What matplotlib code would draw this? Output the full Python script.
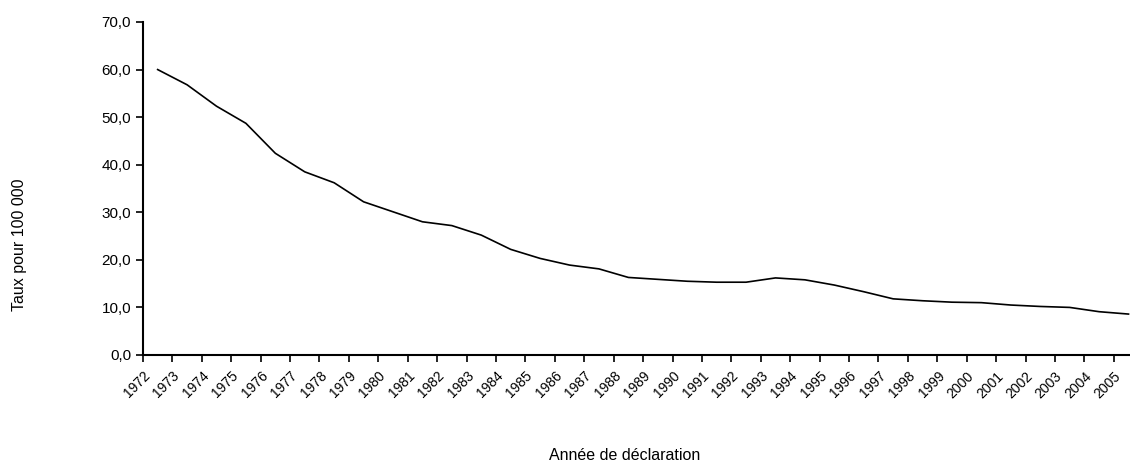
import matplotlib.pyplot as plt
import numpy as np
from matplotlib.ticker import FuncFormatter

plt.rcParams["font.family"] = ["Liberation Sans", "DejaVu Sans"]

# --- Data ---
years = np.arange(1972, 2006)
rates = [60.0, 56.8, 52.3, 48.7, 42.4, 38.5, 36.2, 32.2, 30.1, 28.0,
         27.2, 25.2, 22.2, 20.3, 18.9, 18.1, 16.3, 15.9, 15.5, 15.3,
         15.3, 16.2, 15.8, 14.7, 13.3, 11.8, 11.4, 11.1, 11.0, 10.5,
         10.2, 10.0, 9.1, 8.6]
y_ticks = [0, 10, 20, 30, 40, 50, 60, 70]

fig = plt.figure(figsize=(11.3, 4.63), dpi=100)
ax = fig.add_axes([0.1265, 0.2333, 0.8735, 0.7192])

# mid-year rates, ticks on year boundaries
ax.plot(years + 0.5, rates, color="black", lw=1.2)

ax.set_xlim(1972, 2005.55)
ax.set_ylim(0, 70)
ax.set_yticks(y_ticks)
ax.yaxis.set_major_formatter(FuncFormatter(lambda v, p: f"{v:.1f}".replace(".", ",")))
ax.set_xticks(years)
ax.set_xticklabels([str(y) for y in years], rotation=45, ha="right",
                   rotation_mode="anchor", fontsize=10)
ax.tick_params(axis="y", labelsize=11, length=5, width=1.2, direction="out")
ax.tick_params(axis="x", length=5, width=1.2, direction="out", pad=5)

for s in ["top", "right"]:
    ax.spines[s].set_visible(False)
for s in ["left", "bottom"]:
    ax.spines[s].set_linewidth(1.5)

fig.text(20 / 1130, 1 - 245 / 463, "Taux pour 100 000", rotation=90,
         ha="center", va="center", fontsize=11.5)
fig.text(625 / 1130, 1 - 455 / 463, "Année de déclaration",
         ha="center", va="center", fontsize=11.5)

fig.savefig("out.png", dpi=100)
